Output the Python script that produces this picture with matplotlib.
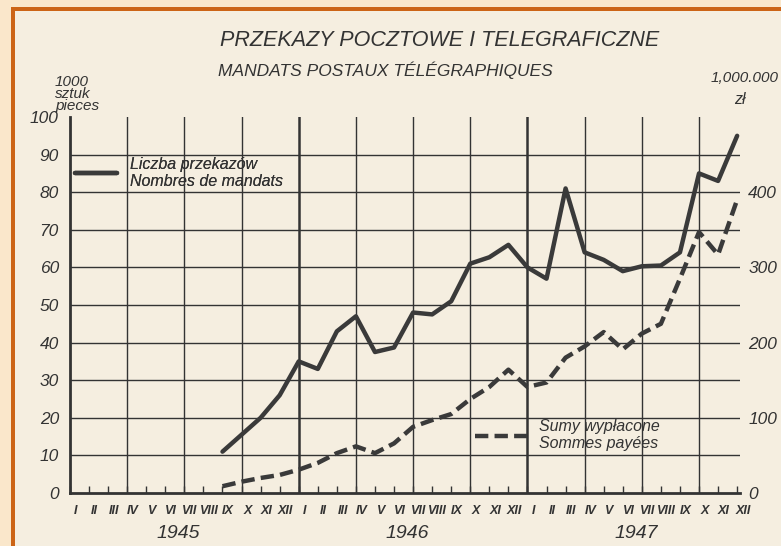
import matplotlib.pyplot as plt
from matplotlib.patches import Rectangle

plt.rcParams['font.family'] = ['Liberation Sans', 'DejaVu Sans']

# months Jan 1945 .. Dec 1947 -> index 0..35
months = ["I", "II", "III", "IV", "V", "VI", "VII", "VIII", "IX", "X", "XI", "XII"] * 3
years = ["1945", "1946", "1947"]

# number of money orders, thousands of pieces (from IX 1945)
count_idx = list(range(8, 36))
count = [11, 15.5, 20, 26, 35, 33, 43, 47, 37.5, 38.7, 48, 47.5, 51, 61,
         62.7, 66, 60, 57, 81, 64, 62, 59, 60.3, 60.5, 64, 85, 83, 95]

# sums paid out, millions of zloty (from IX 1945)
sums = [9, 15, 20, 24, 31, 40, 53, 62, 53, 66, 88, 97, 105, 125,
        141, 164, 141, 147, 180, 195, 214, 191, 212, 225, 285, 347, 317, 390]

ink = '#333333'
paper = '#f5eee0'

fig = plt.figure(figsize=(7.81, 5.46), dpi=100)
fig.patch.set_facecolor('#fae7cb')
W, H = 781, 546
fig.patches.append(Rectangle((15 / W, 0), 1, (H - 11) / H, transform=fig.transFigure,
                             facecolor=paper, edgecolor='none', zorder=-2))
fig.patches.append(Rectangle((11 / W, 0), 4 / W, (H - 7) / H, transform=fig.transFigure,
                             facecolor='#cc6416', edgecolor='none', zorder=-1))
fig.patches.append(Rectangle((11 / W, (H - 11) / H), 1, 4 / H, transform=fig.transFigure,
                             facecolor='#cc6416', edgecolor='none', zorder=-1))

ax = fig.add_axes([70 / W, 53 / H, 670 / W, 376 / H])
ax.set_facecolor('none')
ax.set_xlim(0, 35.15)
ax.set_ylim(0, 100)

# grid
for v in range(10, 100, 10):
    ax.axhline(v, color=ink, lw=1.0, zorder=1)
for m in range(3, 36, 3):
    ax.axvline(m, color=ink, lw=1.8 if m % 12 == 0 else 1.0, zorder=1)

for s in ['top', 'right']:
    ax.spines[s].set_visible(False)
for s in ['left', 'bottom']:
    ax.spines[s].set_color(ink)
    ax.spines[s].set_linewidth(2)

ax.set_yticks(range(0, 101, 10))
ax.set_yticklabels([str(v) for v in range(0, 101, 10)], fontsize=12.5, style='italic', color=ink)
ax.tick_params(axis='y', length=0, pad=8)
ax.set_xticks(range(36))
ax.set_xticklabels([])
ax.tick_params(axis='x', direction='in', length=5, width=1, color=ink)

for i, m in enumerate(months):
    ax.text(i + 0.3, -3.3, m, ha='center', va='top', fontsize=9, style='italic',
            weight='bold', color=ink)
for k, y in enumerate(years):
    ax.text(5.7 + 12 * k, -8.5, y, ha='center', va='top', fontsize=14, style='italic', color=ink)

solid, = ax.plot(count_idx, count, color='#3a3a3a', lw=3.2, solid_capstyle='round', zorder=3)

ax2 = ax.twinx()
ax2.set_ylim(0, 500)
for s in ax2.spines.values():
    s.set_visible(False)
ax2.set_yticks(range(0, 401, 100))
ax2.set_yticklabels([str(v) for v in range(0, 401, 100)], fontsize=12.5, style='italic', color=ink)
ax2.tick_params(axis='y', length=0, pad=6)
dashed, = ax2.plot(count_idx, sums, color='#3a3a3a', lw=3.2, dashes=(3, 1.4), zorder=3)

leg1 = ax.legend([solid], ["Liczba przekazów\nNombres de mandats"], loc='center left',
                 bbox_to_anchor=(0.008, 0.851), frameon=False, handlelength=2.6,
                 handletextpad=0.8, borderpad=0, borderaxespad=0,
                 prop={'style': 'italic', 'size': 11.5})
for t in leg1.get_texts():
    t.set_color(ink)
ax.add_artist(leg1)
leg2 = ax2.legend([dashed], ["Sumy wypłacone\nSommes payées"], loc='center left',
                  bbox_to_anchor=(0.604, 0.154), frameon=False, handlelength=3.3,
                  handletextpad=0.7, borderpad=0, borderaxespad=0,
                  prop={'style': 'italic', 'size': 11.5})
for t in leg2.get_texts():
    t.set_color(ink)

fig.text(440 / W, 1 - 40 / H, "PRZEKAZY POCZTOWE I TELEGRAFICZNE", ha='center', va='center',
         fontsize=15.5, style='italic', color=ink)
fig.text(385 / W, 1 - 70 / H, "MANDATS POSTAUX TÉLÉGRAPHIQUES", ha='center', va='center',
         fontsize=12.5, style='italic', color=ink)
fig.text(55 / W, 1 - 94 / H, "1000\nsztuk\npieces", ha='left', va='center',
         fontsize=11, style='italic', color=ink, linespacing=0.85)
fig.text(779 / W, 1 - 78 / H, "1,000.000", ha='right', va='center',
         fontsize=11, style='italic', color=ink)
fig.text(740 / W, 1 - 100 / H, "zł", ha='center', va='center',
         fontsize=11.5, style='italic', color=ink)

fig.savefig('out.png', dpi=100, facecolor=fig.get_facecolor())
